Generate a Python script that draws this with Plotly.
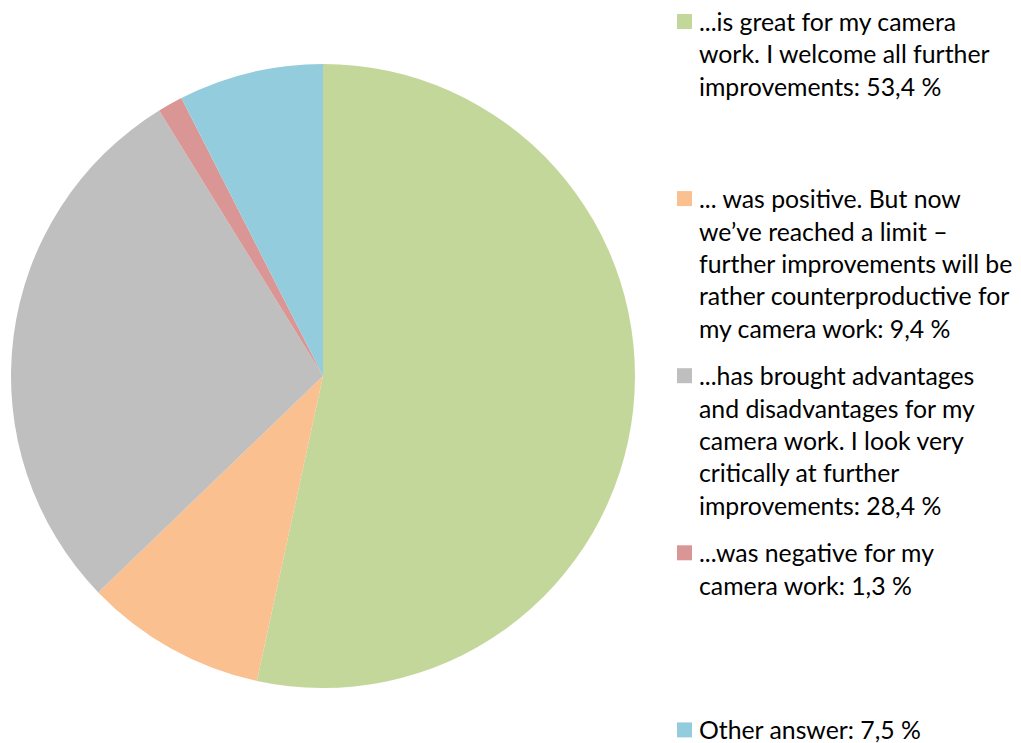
import plotly.graph_objects as go

labels = [
    "...is great for my camera<br>work. I welcome all further<br>improvements: 53,4 %",
    "... was positive. But now<br>we\u2019ve reached a limit \u2013<br>further improvements will be<br>rather counterproductive for<br>my camera work: 9,4 %",
    "...has brought advantages<br>and disadvantages for my<br>camera work. I look very<br>critically at further<br>improvements: 28,4 %",
    "...was negative for my<br>camera work: 1,3 %",
    "Other answer: 7,5 %",
]
values = [53.4, 9.4, 28.4, 1.3, 7.5]
colors = ["#C4D79B", "#FAC090", "#BFBFBF", "#D99694", "#93CDDD"]

W, H = 1021, 743
cx, cy, r = 323, 376, 312

fig = go.Figure()
fig.add_trace(go.Pie(
    labels=[l.split("<br>")[0] for l in labels],
    values=values,
    marker=dict(colors=colors, line=dict(width=0)),
    sort=False,
    direction="clockwise",
    rotation=0,
    textinfo="none",
    hovertext=labels,
    hoverinfo="text",
    showlegend=False,
    domain=dict(x=[(cx - r) / W, (cx + r) / W], y=[(H - cy - r) / H, (H - cy + r) / H]),
))

font = dict(family="Lato, Open Sans, sans-serif", size=24.8, color="#000000")
item_y0 = 21.5
item_gap = 177.1
line_gap = 32.4
sq_x0, sq_size = 677, 15
text_x = 697

shapes = []
annotations = []
for i, (lab, col) in enumerate(zip(labels, colors)):
    yc = item_y0 + i * item_gap
    shapes.append(dict(type="rect", xref="paper", yref="paper",
                       x0=sq_x0 / W, x1=(sq_x0 + sq_size) / W,
                       y0=1 - (yc + sq_size / 2) / H, y1=1 - (yc - sq_size / 2) / H,
                       fillcolor=col, line=dict(width=0)))
    for j, line in enumerate(lab.split("<br>")):
        y = yc + j * line_gap
        annotations.append(dict(text=line, xref="paper", yref="paper",
                                x=text_x / W, y=1 - y / H, xanchor="left", yanchor="middle",
                                showarrow=False, font=font))

fig.update_layout(
    width=W, height=H,
    margin=dict(l=0, r=0, t=0, b=0),
    paper_bgcolor="white", plot_bgcolor="white",
    shapes=shapes, annotations=annotations,
)
fig.write_html("out.html", config={"displayModeBar": False},
               post_script="document.body.style.margin='0';document.body.style.padding='0';")
